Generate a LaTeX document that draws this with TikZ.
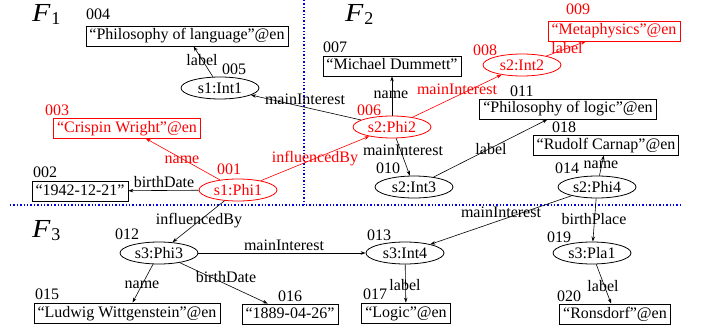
\documentclass[tikz,border=0pt]{standalone}
\usepackage{fontspec}
\setmainfont{Liberation Serif}
\usetikzlibrary{shapes.geometric,arrows.meta}
\definecolor{hlred}{RGB}{255,0,0}
\definecolor{sepblue}{RGB}{0,0,230}
\begin{document}
\begin{tikzpicture}[x=1pt,y=-1pt,font=\fontsize{16}{18}\selectfont,
  lit/.style={draw,rectangle,line width=0.8pt,inner xsep=3.5pt,inner ysep=0pt,minimum height=20pt,text height=11.5pt,text depth=3.5pt},
  res/.style={draw,ellipse,line width=0.8pt,minimum width=78pt,minimum height=22pt,inner sep=0pt},
  num/.style={anchor=base west,inner sep=0pt},
  elab/.style={anchor=base,inner sep=0pt},
  rel/.style={-{Stealth[length=5pt,width=3.5pt]},line width=0.6pt},
  hl/.style={hlred,draw=hlred},
  sep/.style={sepblue,dotted,line width=1.4pt},
  flab/.style={anchor=base west,inner sep=0pt}]
\useasboundingbox (0,0) rectangle (706,334);

% separators
\coordinate (vt) at (304,0);
\coordinate (vb) at (304,205);
\coordinate (hl) at (10,205);
\coordinate (hr) at (683,205);
\draw[sep] (vt) -- (vb);
\draw[sep] (hl) -- (hr);

% fragment labels
\newcommand{\fraglab}[1]{{\fontsize{26}{26}\selectfont\itshape\scalebox{1.15}[1]{F}}\hspace{1pt}\raisebox{-3pt}{\fontsize{18}{18}\selectfont #1}}
\node[flab] (F1) at (32,22) {\fraglab{1}};
\node[flab] (F2) at (345,22) {\fraglab{2}};
\node[flab] (F3) at (32,237) {\fraglab{3}};

% nodes
\node[lit] (n004) at (187,36) {“Philosophy of language”@en};
\node[res] (n005) at (220,88) {s1:Int1};
\node[lit,hl] (n003) at (127,128) {“Crispin Wright”@en};
\node[res,hl] (n001) at (238,190) {s1:Phi1};
\node[lit] (n002) at (80,191) {“1942-12-21”};
\node[res,hl] (n006) at (392,127) {s2:Phi2};
\node[lit] (n007) at (392,66) {“Michael Dummett”};
\node[res,hl] (n008) at (522,65) {s2:Int2};
\node[lit,hl] (n009) at (614,31) {“Metaphysics”@en};
\node[lit] (n011) at (568,109) {“Philosophy of logic”@en};
\node[res] (n010) at (414,187) {s2:Int3};
\node[lit] (n018) at (606,145) {“Rudolf Carnap”@en};
\node[res] (n014) at (597,187) {s2:Phi4};
\node[res] (n012) at (159,253) {s3:Phi3};
\node[res] (n013) at (405,253) {s3:Int4};
\node[res] (n019) at (592,253) {s3:Pla1};
\node[lit] (n015) at (127,313) {“Ludwig Wittgenstein”@en};
\node[lit] (n016) at (290,314) {“1889-04-26”};
\node[lit] (n017) at (406,313) {“Logic”@en};
\node[lit] (n020) at (615,314) {“Ronsdorf”@en};

% id numbers
\node[num] (i004) at (86,19.5) {004};
\node[num] (i005) at (222,75) {005};
\node[num,hlred] (i003) at (45,115) {003};
\node[num,hlred] (i001) at (217,174) {001};
\node[num] (i002) at (33,177) {002};
\node[num] (i007) at (323,53) {007};
\node[num,hlred] (i006) at (357,115) {006};
\node[num,hlred] (i008) at (473,56) {008};
\node[num,hlred] (i009) at (566,15) {009};
\node[num] (i011) at (510,97) {011};
\node[num] (i018) at (552,132) {018};
\node[num] (i010) at (376,173) {010};
\node[num] (i014) at (555,173) {014};
\node[num] (i012) at (115,239) {012};
\node[num] (i015) at (35,299) {015};
\node[num] (i016) at (278,301.5) {016};
\node[num] (i013) at (367,240) {013};
\node[num] (i019) at (547,242) {019};
\node[num] (i017) at (363,299) {017};
\node[num] (i020) at (557,301.5) {020};

% connectors
\draw[rel] (n005) -- (n004);
\draw[rel] (n006) -- (n005);
\draw[rel,hlred] (n001) -- (n003);
\draw[rel,hlred] (n001) -- (n006);
\draw[rel] (n001) -- (n002);
\draw[rel] (n006) -- (n007);
\draw[rel,hlred] (n006) -- (n008);
\draw[rel,hlred] (n008) -- (n009);
\draw[rel] (n006) -- (n010);
\draw[rel] (n010) -- (n011);
\draw[rel] (n014) -- (n018);
\draw[rel] (n014) -- (n013);
\draw[rel] (n014) -- (n019);
\draw[rel] (n001) -- (n012);
\draw[rel] (n012) -- (n013);
\draw[rel] (n012) -- (n015);
\draw[rel] (n012) -- (n016);
\draw[rel] (n013) -- (n017);
\draw[rel] (n019) -- (n020);

% connector labels
\node[elab] (l1) at (202,66) {label};
\node[elab] (l2) at (305,105) {mainInterest};
\node[elab,hlred] (l3) at (182,163) {name};
\node[elab,hlred] (l4) at (315,162) {influencedBy};
\node[elab] (l5) at (164,187) {birthDate};
\node[elab] (l6) at (391,99) {name};
\node[elab,hlred] (l7) at (457,95) {mainInterest};
\node[elab,hlred] (l8) at (567,54) {label};
\node[elab] (l9) at (403,155) {mainInterest};
\node[elab] (l10) at (491,154) {label};
\node[elab] (l11) at (601,168) {name};
\node[elab] (l12) at (501,217) {mainInterest};
\node[elab] (l13) at (594,224) {birthPlace};
\node[elab] (l14) at (199,224) {influencedBy};
\node[elab] (l15) at (284,250) {mainInterest};
\node[elab] (l16) at (142,288) {name};
\node[elab] (l17) at (226,282) {birthDate};
\node[elab] (l18) at (405,290) {label};
\node[elab] (l19) at (603,291) {label};
\end{tikzpicture}
\end{document}
